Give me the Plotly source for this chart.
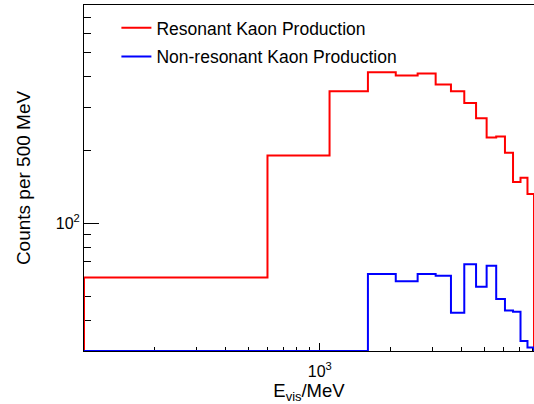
import plotly.graph_objects as go
import numpy as np

# bin edges in MeV (500 MeV wide bins)
edges = [100, 600, 1100, 1600, 2100, 2600, 3100, 3600, 4100,
         4600, 5100, 5600, 6100, 6600, 7100, 7600, 8100]

# counts per bin
resonant = [60, 190, 348, 417, 404, 412, 371, 348,
            312, 270, 225, 227, 195, 148, 154, 132]
nonresonant = [0, 0, 0, 62, 58, 62, 61, 43,
               68, 55, 67, 49, 44, 43.5, 33, 31]

ymin, ymax = 30, 786


def step_xy(vals):
    # ROOT-like histogram outline, empty bins drawn on the axis floor
    v = [max(c, ymin) for c in vals]
    xs = [edges[0]] + edges[:-1] + [edges[-1], edges[-1]]
    ys = [ymin] + v + [v[-1], ymin]
    return xs, ys


fig = go.Figure()

x1, y1 = step_xy(resonant)
fig.add_trace(go.Scatter(x=x1, y=y1, mode="lines", line_shape="hv",
                         line=dict(color="#ff0000", width=2),
                         name="Resonant Kaon Production", legendgroup="a"))
x2, y2 = step_xy(nonresonant)
fig.add_trace(go.Scatter(x=x2, y=y2, mode="lines", line_shape="hv",
                         line=dict(color="#0000ff", width=2),
                         name="Non-resonant Kaon Production", legendgroup="b"))

xminor = [200, 300, 400, 500, 600, 700, 800, 900,
          2000, 3000, 4000, 5000, 6000, 7000, 8000]
yminor = [40, 50, 60, 70, 80, 90, 200, 300, 400, 500, 600, 700]

fig.update_xaxes(type="log", range=[np.log10(100), np.log10(8100)],
                 automargin=False,
                 showline=True, linecolor="black", linewidth=1, mirror=True,
                 showgrid=False, zeroline=False,
                 tickmode="array", tickvals=[1000], ticktext=["10<sup>3</sup>"],
                 ticks="inside", ticklen=8, tickcolor="black",
                 minor=dict(tickvals=xminor, ticks="inside", ticklen=4,
                            tickcolor="black", showgrid=False),
                 ticklabelstandoff=6, tickfont=dict(size=16),
                 layer="below traces",
                 title=dict(text="E<sub>vis</sub>/MeV", standoff=2,
                            font=dict(size=18.5)))
fig.update_yaxes(type="log", range=[np.log10(ymin), np.log10(ymax)],
                 automargin=False,
                 showline=True, linecolor="black", linewidth=1, mirror=False,
                 showgrid=False, zeroline=False,
                 tickmode="array", tickvals=[100], ticktext=["10<sup>2</sup>"],
                 ticks="inside", ticklen=15, tickcolor="black",
                 minor=dict(tickvals=yminor, ticks="inside", ticklen=7,
                            tickcolor="black", showgrid=False),
                 tickfont=dict(size=16),
                 layer="below traces",
                 title=dict(text="Counts per 500 MeV", standoff=20,
                            font=dict(size=19)))

fig.update_layout(
    width=534, height=404,
    margin=dict(l=84, r=0, t=5, b=53),
    paper_bgcolor="white", plot_bgcolor="white",
    font=dict(family="Liberation Sans, Arial, sans-serif", size=16, color="black"),
    showlegend=True,
    legend=dict(x=0.072, y=0.986, xanchor="left", yanchor="top",
                bgcolor="rgba(0,0,0,0)", font=dict(size=17.5),
                traceorder="grouped", tracegroupgap=3),
)

fig.write_html("out.html", config={"responsive": False, "displayModeBar": False},
               post_script="document.body.style.margin='0';"
                           "document.body.style.overflow='hidden';")
